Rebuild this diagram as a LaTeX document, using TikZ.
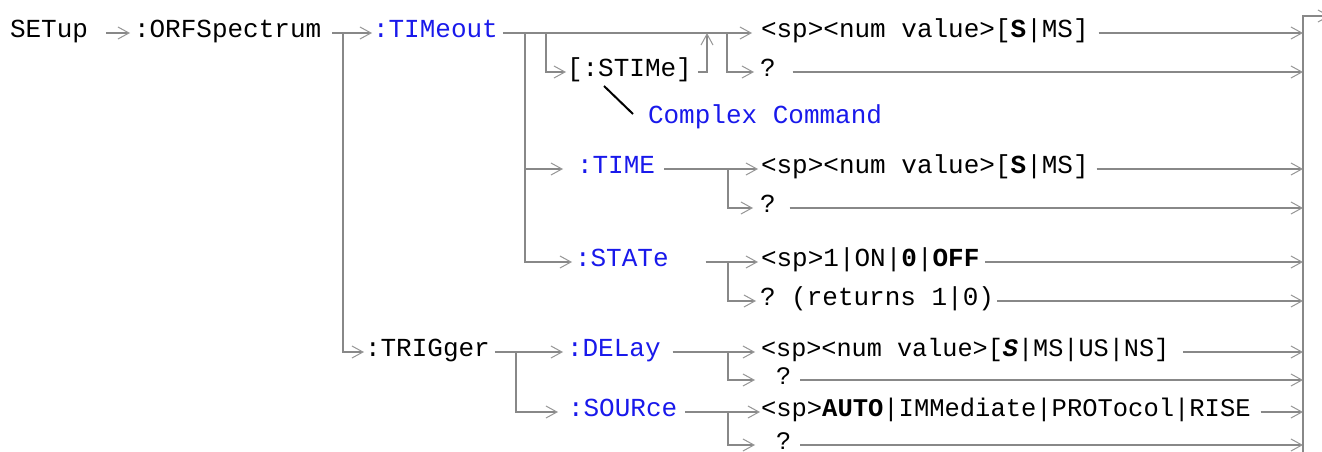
\documentclass[tikz,border=0pt]{standalone}
\usepackage{fontspec}
\setmonofont{Liberation Mono}
\usetikzlibrary{arrows.meta}
\definecolor{lg}{RGB}{136,136,136}
\definecolor{ag}{RGB}{150,150,150}
\definecolor{bl}{RGB}{25,25,235}
\begin{document}
\begin{tikzpicture}[x=1pt,y=-1pt,
 txt/.style={anchor=west,inner sep=0pt,outer sep=0pt,font=\ttfamily\fontsize{26}{30}\selectfont,text height=14pt,text depth=5pt},
 ttxt/.style={txt,font=\ttfamily\fontsize{25.2}{30}\selectfont},
 tttxt/.style={txt,font=\ttfamily\fontsize{25.5}{30}\selectfont},
 cmd/.style={txt,text=bl},
 ln/.style={draw=lg,line width=2pt},
 ar/.style={ln,-{Straight Barb[length=11pt,width=12pt,line width=1pt,color=ag]}},
]
\clip (0,0) rectangle (1322,452);
\fill[white] (0,0) rectangle (1322,452);
% texts
\node[txt] (setup) at (10,33) {SETup};
\node[txt] (orf) at (134,33) {:ORFSpectrum};
\node[cmd] (tim) at (373,33) {:TIMeout};
\node[txt] (stime) at (567,72) {[:STIMe]};
\node[txt] (v1) at (761,33) {<sp><num value>[\textbf{S}|MS]};
\node[txt] (q1) at (760,72) {?};
\node[cmd] (cc) at (648,119) {Complex Command};
\node[cmd] (time) at (577,169) {:TIME};
\node[txt] (v2) at (761,169) {<sp><num value>[\textbf{S}|MS]};
\node[txt] (q2) at (760,208) {?};
\node[cmd] (state) at (575,262) {:STATe};
\node[txt] (v3) at (761,262) {<sp>1|ON|\textbf{0}|\textbf{OFF}};
\node[txt] (q3) at (760,301) {? (returns 1|0)};
\node[txt] (trig) at (365,352) {:TRIGger};
\node[cmd] (delay) at (567,352) {:DELay};
\node[ttxt] (v4) at (761,352) {<sp><num value>[\textbf{\textit{S}}|MS|US|NS]};
\node[ttxt] (q4) at (761,380) {\ ?};
\node[cmd] (source) at (568,412) {:SOURce};
\node[tttxt] (v5) at (761,412) {<sp>\textbf{AUTO}|IMMediate|PROTocol|RISE};
\node[ttxt] (q5) at (761,445) {\ ?};
% junctions
\coordinate (b1) at (343,33);
\coordinate (b2) at (525,33);
\coordinate (b3) at (546,33);
\coordinate (up) at (707,33);
\coordinate (b4) at (727,33);
\coordinate (b5) at (728,169);
\coordinate (b6) at (728,262);
\coordinate (b7) at (516,352);
\coordinate (b8) at (728,352);
\coordinate (b9) at (728,412);
\coordinate (bb) at (1303,452);
\coordinate (ex) at (1330,16);
\coordinate (s1) at (604,86);
\coordinate (s2) at (633,114);
% connectors
\draw[ar,line width=1.2pt] ([xshift=18pt]setup.east) -- ([xshift=-4pt]orf.west);
\draw[ar] ([xshift=11pt]orf.east) -- ([xshift=-1pt]tim.west);
\draw[ar] (b1) |- ([xshift=-1pt]trig.west);
\draw[ar] ([xshift=5pt]tim.east) -- ([xshift=-9pt]v1.west);
\draw[ar] (b3) |- ([xshift=-1pt]stime.west);
\draw[ar] ([xshift=6pt]stime.east) -| (up);
\draw[ar] (b4) |- ([xshift=-6pt]q1.west);
\draw[ar] (b2) |- ([xshift=-14pt]time.west);
\draw[ar] (b2) |- ([xshift=-3pt]state.west);
\draw[line width=2pt] (s1) -- (s2);
\draw[ar] ([xshift=9pt]time.east) -- ([xshift=-3pt]v2.west);
\draw[ar] (b5) |- ([xshift=-7pt]q2.west);
\draw[ar] ([xshift=37pt]state.east) -- ([xshift=-3pt]v3.west);
\draw[ar] (b6) |- ([xshift=-4pt]q3.west);
\draw[ar] ([xshift=5pt]trig.east) -- ([xshift=-4pt]delay.west);
\draw[ar] (b7) |- ([xshift=-10pt]source.west);
\draw[ar] ([xshift=12pt]delay.east) -- ([xshift=-6pt]v4.west);
\draw[ar] (b8) |- ([xshift=-6pt]q4.west);
\draw[ar] ([xshift=8pt]source.east) -- ([xshift=-1pt]v5.west);
\draw[ar] (b9) |- ([xshift=-6pt]q5.west);
% to right bus
\draw[ar] ([xshift=10pt]v1.east) -- (v1.east -| bb);
\draw[ar] ([xshift=17pt]q1.east) -- (q1.east -| bb);
\draw[ar] ([xshift=8pt]v2.east) -- (v2.east -| bb);
\draw[ar] ([xshift=14pt]q2.east) -- (q2.east -| bb);
\draw[ar] ([xshift=6pt]v3.east) -- (v3.east -| bb);
\draw[ar] ([xshift=3pt]q3.east) -- (q3.east -| bb);
\draw[ar] ([xshift=14pt]v4.east) -- (v4.east -| bb);
\draw[ar] ([xshift=9pt]q4.east) -- (q4.east -| bb);
\draw[ar] ([xshift=10pt]v5.east) -- (v5.east -| bb);
\draw[ar] ([xshift=9pt]q5.east) -- (q5.east -| bb);
\draw[ar] (bb) |- (ex);
\end{tikzpicture}
\end{document}
